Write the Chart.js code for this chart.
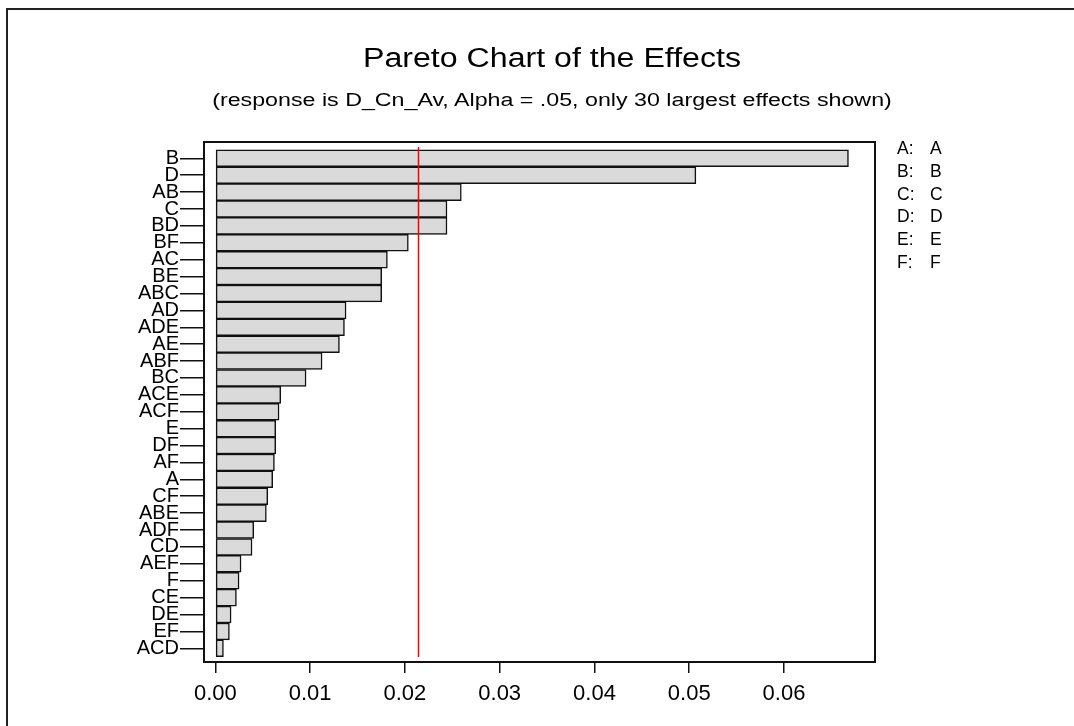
<!DOCTYPE html>
<html lang="en">
<head>
  <meta charset="UTF-8">
  <title>Pareto Chart of the Effects</title>
  <script src="https://cdn.jsdelivr.net/npm/chart.js"></script>
  <style>
    body {
      margin: 0;
      background: #fff;
      font-family: Arial, "Liberation Sans", sans-serif;
      color: #000;
    }
    #wrap {
      position: relative;
      width: 1074px;
      height: 726px;
      overflow: hidden;
    }
    #outer {
      position: absolute;
      left: 6px;
      top: 8px;
      width: 2000px;
      height: 2000px;
      border-top: 2px solid #222;
      border-left: 2px solid #222;
    }
    canvas { position: absolute; left: 0; top: 0; }
    .title {
      position: absolute;
      left: 0;
      width: 1104px;
      text-align: center;
      white-space: nowrap;
      transform-origin: 552px 50%;
    }
    #mainTitle { top: 42px; font-size: 27px; line-height: 32px; transform: scaleX(1.19); }
    #subTitle { top: 90px; font-size: 18px; line-height: 20px; transform: scaleX(1.29); }
    #factors {
      position: absolute;
      left: 897px;
      top: 137px;
      font-size: 17.5px;
      line-height: 22.8px;
    }
    #factors span { display: inline-block; width: 33px; }
  </style>
</head>
<body>
  <div id="wrap">
    <div id="outer"></div>
    <canvas id="pareto" width="1074" height="726"></canvas>
    <div class="title" id="mainTitle">Pareto Chart of the Effects</div>
    <div class="title" id="subTitle">(response is D_Cn_Av, Alpha = .05, only 30 largest effects shown)</div>
    <div id="factors"></div>
  </div>

  <script>
    // effects, largest first (top of the chart)
    const effects = ['B', 'D', 'AB', 'C', 'BD', 'BF', 'AC', 'BE', 'ABC', 'AD',
      'ADE', 'AE', 'ABF', 'BC', 'ACE', 'ACF', 'E', 'DF', 'AF', 'A',
      'CF', 'ABE', 'ADF', 'CD', 'AEF', 'F', 'CE', 'DE', 'EF', 'ACD'];
    const effectValues = [0.0668, 0.0507, 0.02595, 0.02444, 0.02444, 0.02036, 0.01815, 0.01755, 0.01755, 0.01379,
      0.01362, 0.01309, 0.01126, 0.00957, 0.0069, 0.00672, 0.00637, 0.00637, 0.00623, 0.00605,
      0.00553, 0.00538, 0.00405, 0.00387, 0.00271, 0.0025, 0.00222, 0.00166, 0.00148, 0.00085];
    const xTickValues = [0, 0.01, 0.02, 0.03, 0.04, 0.05, 0.06];
    const alphaLine = 0.02135;
    const factorKeys = ['A', 'B', 'C', 'D', 'E', 'F'];
    const factorNames = ['A', 'B', 'C', 'D', 'E', 'F'];

    document.getElementById('factors').innerHTML = factorKeys
      .map((k, i) => `<div><span>${k}:</span>${factorNames[i]}</div>`).join('');

    // frame around the plot + red reference line
    const framePlugin = {
      id: 'frame',
      afterDraw(chart) {
        const { ctx, chartArea: a } = chart;
        ctx.save();
        ctx.strokeStyle = '#111';
        ctx.lineWidth = 2;
        ctx.strokeRect(a.left, a.top, a.right - a.left, a.bottom - a.top);
        const x = Math.round(chart.scales.x.getPixelForValue(alphaLine)) + 0.5;
        ctx.strokeStyle = '#ff0000';
        ctx.lineWidth = 1.5;
        ctx.beginPath();
        ctx.moveTo(x, a.top + 5);
        ctx.lineTo(x, a.bottom - 5);
        ctx.stroke();
        ctx.restore();
      }
    };

    const ctx = document.getElementById('pareto').getContext('2d');
    new Chart(ctx, {
      type: 'bar',
      data: {
        datasets: [{
          data: effectValues.map((v, i) => ({ x: v, y: i })),
          backgroundColor: '#dadada',
          borderColor: '#111',
          borderWidth: 1.5,
          borderSkipped: false,
          barPercentage: 1,
          categoryPercentage: 1
        }]
      },
      options: {
        indexAxis: 'y',
        responsive: false,
        animation: false,
        layout: { padding: { top: 142, right: 199, left: 0, bottom: 0 } },
        plugins: { legend: { display: false }, tooltip: { enabled: false } },
        scales: {
          y: {
            type: 'linear',
            reverse: true,
            offset: false,
            min: -0.965,
            max: 29.81,
            afterBuildTicks: s => { s.ticks = effects.map((_, i) => ({ value: i })); },
            afterFit: s => { s.width = 204; },
            ticks: {
              autoSkip: false,
              padding: 1,
              color: '#000',
              font: { size: 20, family: 'Arial' },
              callback: v => effects[v]
            },
            grid: { offset: false, drawOnChartArea: false, tickLength: 24, color: '#111', lineWidth: 1.5 },
            border: { display: false }
          },
          x: {
            type: 'linear',
            min: -0.0012,
            max: 0.0696,
            afterBuildTicks: s => { s.ticks = xTickValues.map(v => ({ value: v })); },
            afterFit: s => { s.height = 64; },
            ticks: {
              autoSkip: false,
              maxRotation: 0,
              padding: 8,
              color: '#000',
              font: { size: 22, family: 'Arial' },
              callback: v => v.toFixed(2)
            },
            grid: { drawOnChartArea: false, tickLength: 11, color: '#111', lineWidth: 1.5 },
            border: { display: false }
          }
        }
      },
      plugins: [framePlugin]
    });
  </script>
</body>
</html>
